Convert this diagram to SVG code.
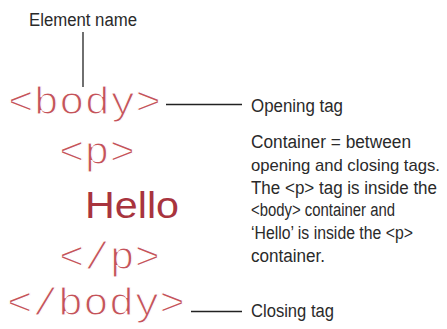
<svg xmlns="http://www.w3.org/2000/svg" width="447" height="329" viewBox="0 0 447 329">
<style>
.lbl{font-family:"Liberation Sans",Arial,sans-serif;font-size:18px;fill:#2a2a2a}
.code{font-family:"Liberation Mono","Courier New",monospace;font-size:39px;fill:#c4535a;stroke:#fff;stroke-width:1.1px}
.hello{font-family:"Liberation Sans",Arial,sans-serif;font-size:37px;fill:#a8343e}
.conn line{stroke:#222;stroke-width:1.3}
</style>
<rect width="447" height="329" fill="#fff"/>
<g id="element-name"><text class="lbl" x="29" y="26" textLength="108" lengthAdjust="spacingAndGlyphs">Element name</text></g>
<g id="body-open"><text class="code" x="8" y="114" textLength="153" lengthAdjust="spacingAndGlyphs">&lt;body&gt;</text></g>
<g id="p-open"><text class="code" x="59" y="164" textLength="76" lengthAdjust="spacingAndGlyphs">&lt;p&gt;</text></g>
<g id="hello"><text class="hello" x="85" y="218" textLength="94" lengthAdjust="spacingAndGlyphs">Hello</text></g>
<g id="p-close"><text class="code" x="59" y="269" textLength="101" lengthAdjust="spacingAndGlyphs">&lt;/p&gt;</text></g>
<g id="body-close"><text class="code" x="7" y="315" textLength="178" lengthAdjust="spacingAndGlyphs">&lt;/body&gt;</text></g>
<g id="opening-tag"><text class="lbl" x="251" y="112" textLength="92" lengthAdjust="spacingAndGlyphs">Opening tag</text></g>
<g id="container-note">
<text class="lbl" x="251" y="148" textLength="160" lengthAdjust="spacingAndGlyphs">Container = between</text>
<text class="lbl" x="251" y="171" style="font-size:17px" textLength="189" lengthAdjust="spacingAndGlyphs">opening and closing tags.</text>
<text class="lbl" x="251" y="193.5" textLength="186" lengthAdjust="spacingAndGlyphs">The &lt;p&gt; tag is inside the</text>
<text class="lbl" x="251" y="216" textLength="144" lengthAdjust="spacingAndGlyphs">&lt;body&gt; container and</text>
<text class="lbl" x="251" y="239" textLength="162" lengthAdjust="spacingAndGlyphs">‘Hello’ is inside the &lt;p&gt;</text>
<text class="lbl" x="251" y="261.5" textLength="74" lengthAdjust="spacingAndGlyphs">container.</text>
</g>
<g id="closing-tag"><text class="lbl" x="251" y="317" textLength="83" lengthAdjust="spacingAndGlyphs">Closing tag</text></g>
<g class="conn" id="connectors">
<line x1="83" y1="32" x2="83" y2="87"/>
<line x1="166" y1="104.5" x2="242" y2="104.5"/>
<line x1="191" y1="311.5" x2="242" y2="311.5"/>
</g>
</svg>
